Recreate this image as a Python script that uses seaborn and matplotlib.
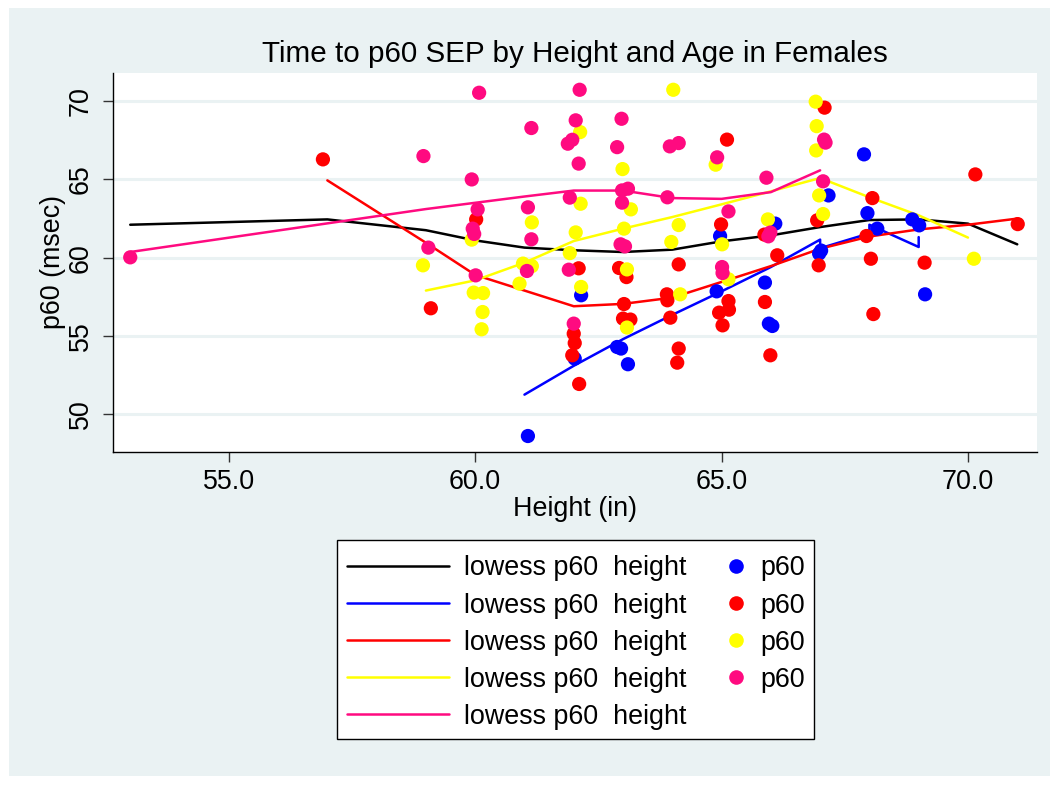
import pandas as pd
import seaborn as sns
import matplotlib.pyplot as plt
from matplotlib.lines import Line2D
from matplotlib.patches import Rectangle

# ---------------- data ----------------
# scatter points, one list pair per age group
blue_height = [61.07, 62.15, 62.02, 62.88, 62.96, 63.10, 64.97, 64.90, 65.88, 66.09,
               65.96, 66.03, 66.98, 67.02, 67.17, 67.89, 67.96, 68.16, 68.87, 69.01, 69.13]
blue_p60 = [48.62, 57.60, 53.56, 54.30, 54.20, 53.20, 61.38, 57.85, 58.41, 62.17,
            55.79, 55.64, 60.26, 60.45, 63.97, 66.59, 62.84, 61.85, 62.44, 62.06, 57.66]

red_height = [56.91, 59.10, 60.02, 62.10, 62.92, 63.07, 64.13, 63.89, 63.90, 63.02,
              63.00, 63.15, 63.96, 62.00, 62.02, 61.97, 64.13, 64.10, 62.11, 67.09,
              65.11, 66.94, 64.99, 65.87, 66.13, 66.97, 65.14, 65.15, 64.95, 65.02,
              65.88, 65.99, 70.15, 68.06, 71.01, 67.94, 68.03, 69.12, 68.08]
red_p60 = [66.27, 56.77, 62.44, 59.32, 59.34, 58.76, 59.57, 57.66, 57.28, 57.04,
           56.11, 56.05, 56.17, 55.15, 54.55, 53.77, 54.20, 53.30, 51.94, 69.57,
           67.53, 62.38, 62.12, 61.47, 60.15, 59.51, 57.23, 56.68, 56.49, 55.68,
           57.17, 53.77, 65.31, 63.80, 62.14, 61.38, 59.93, 59.68, 56.40]

yellow_height = [61.15, 59.93, 58.94, 60.97, 61.15, 60.90, 59.97, 60.16, 60.15, 60.13,
                 64.02, 62.13, 62.99, 62.14, 63.16, 64.13, 62.04, 63.02, 63.98, 61.92,
                 63.08, 62.15, 64.16, 63.08, 66.91, 66.93, 66.92, 64.88, 66.98, 67.06,
                 65.01, 65.94, 65.14, 70.12]
yellow_p60 = [62.25, 61.15, 59.51, 59.62, 59.46, 58.34, 57.77, 57.74, 56.53, 55.43,
              70.71, 68.01, 65.65, 63.44, 63.08, 62.08, 61.61, 61.85, 61.00, 60.29,
              59.25, 58.13, 57.66, 55.54, 69.95, 68.39, 66.84, 65.93, 63.97, 62.78,
              60.85, 62.44, 58.62, 59.93]

pink_height = [53.00, 58.95, 59.05, 60.08, 61.14, 59.93, 60.05, 61.07, 59.95, 59.98,
               61.14, 61.05, 60.01, 62.12, 62.04, 62.97, 61.97, 61.88, 62.88, 63.95,
               64.13, 62.10, 61.92, 62.98, 63.10, 62.98, 63.90, 62.95, 63.04, 61.90,
               62.00, 67.08, 67.11, 64.91, 65.91, 67.06, 65.14, 65.99, 65.95, 65.01, 65.02]
pink_p60 = [60.02, 66.48, 60.64, 70.52, 68.27, 64.99, 63.08, 63.21, 61.85, 61.51,
            61.17, 59.15, 58.87, 70.71, 68.76, 68.86, 67.52, 67.27, 67.05, 67.10,
            67.31, 66.00, 63.83, 64.29, 64.40, 63.51, 63.85, 60.85, 60.72, 59.23,
            55.79, 67.53, 67.34, 66.40, 65.10, 64.87, 62.95, 61.60, 61.36, 59.40, 59.02]

# lowess curves (vertices)
all_fit_h = [53, 57, 59, 60, 61, 62, 63, 64, 65, 66, 67, 68, 69, 70, 71]
all_fit_v = [62.10, 62.44, 61.75, 61.10, 60.64, 60.47, 60.36, 60.51, 61.04, 61.42,
             61.95, 62.40, 62.44, 62.17, 60.85]
blue_fit_h = [61, 62, 63, 64, 65, 66, 67, 67, 68, 68, 69, 69]
blue_fit_v = [51.26, 53.10, 54.80, 56.35, 57.85, 59.40, 61.15, 60.60, 61.55, 62.10, 60.68, 61.31]
red_fit_h = [57, 59, 60, 62, 63, 64, 65, 66, 67, 68, 69, 70, 71]
red_fit_v = [64.93, 60.95, 58.90, 56.90, 57.05, 57.45, 58.45, 59.46, 60.57, 61.35, 61.80, 62.10, 62.49]
yellow_fit_h = [59, 60, 61, 62, 63, 64, 65, 66, 67, 68, 69, 70]
yellow_fit_v = [57.90, 58.55, 59.68, 61.06, 61.85, 62.59, 63.40, 64.23, 65.08, 63.85, 62.70, 61.28]
pink_fit_h = [53, 59, 60, 61, 62, 63, 64, 65, 66, 67]
pink_fit_v = [60.36, 63.10, 63.50, 63.90, 64.28, 64.28, 63.80, 63.75, 64.18, 65.57]

colors = ['#0000FF', '#FF0000', '#FFFF00', '#FF0A80']
groups = ['g1', 'g2', 'g3', 'g4']

df = pd.concat([
    pd.DataFrame({'height': blue_height, 'p60': blue_p60, 'group': 'g1'}),
    pd.DataFrame({'height': red_height, 'p60': red_p60, 'group': 'g2'}),
    pd.DataFrame({'height': yellow_height, 'p60': yellow_p60, 'group': 'g3'}),
    pd.DataFrame({'height': pink_height, 'p60': pink_p60, 'group': 'g4'}),
], ignore_index=True)

fits = [
    (all_fit_h, all_fit_v, 'black'),
    (blue_fit_h, blue_fit_v, colors[0]),
    (red_fit_h, red_fit_v, colors[1]),
    (yellow_fit_h, yellow_fit_v, colors[2]),
    (pink_fit_h, pink_fit_v, colors[3]),
]

# ---------------- plot ----------------
sns.set_style('white')
plt.rcParams['font.family'] = ['Liberation Sans', 'DejaVu Sans']
plt.rcParams['text.color'] = 'black'
plt.rcParams['axes.labelcolor'] = 'black'
plt.rcParams['xtick.color'] = 'black'
plt.rcParams['ytick.color'] = 'black'

bg = '#EAF2F3'
fs = 19.4
fig = plt.figure(figsize=(10.58, 7.85), dpi=100)
fig.patch.set_facecolor('white')
fig.patches.append(Rectangle((0.0085, 0.0115), 0.984, 0.978, transform=fig.transFigure,
                             facecolor=bg, edgecolor='none', zorder=-10))
ax = fig.add_axes([0.1068, 0.4242, 0.8733, 0.4832])
ax.set_facecolor('white')

for h, v, c in fits:
    sns.lineplot(x=h, y=v, sort=False, estimator=None, color=c, lw=1.8, ax=ax, zorder=2)

sns.scatterplot(data=df, x='height', y='p60', hue='group', hue_order=groups,
                palette=colors, s=105, linewidth=0, legend=False, ax=ax, zorder=3)

ax.set_xlim(52.65, 71.4)
ax.set_ylim(47.6, 71.8)
ax.set_xticks([55, 60, 65, 70])
ax.set_xticklabels(['55.0', '60.0', '65.0', '70.0'])
ax.set_yticks([50, 55, 60, 65, 70])
ax.set_yticklabels(['50', '55', '60', '65', '70'], rotation=90, va='center')
ax.yaxis.grid(True, color=bg, lw=2.2)
ax.xaxis.grid(False)
ax.set_axisbelow(True)
for s in ['top', 'right']:
    ax.spines[s].set_visible(False)
for s in ['left', 'bottom']:
    ax.spines[s].set_color('black')
    ax.spines[s].set_linewidth(1.0)
ax.tick_params(axis='both', direction='out', length=7, width=1, color='#333333',
               labelsize=fs, bottom=True, left=True)
ax.tick_params(axis='x', pad=5)
ax.tick_params(axis='y', pad=7)

ax.set_xlabel('Height (in)', fontsize=fs, labelpad=1)
ax.set_ylabel('p60 (msec)', fontsize=fs, labelpad=1)
ax.set_title('Time to p60 SEP by Height and Age in Females', fontsize=21.3, pad=8)

# legend: frame + lines column + markers column
fig.patches.append(Rectangle((337 / 1058, 46 / 785), 477 / 1058, 199 / 785,
                             transform=fig.transFigure, facecolor='white',
                             edgecolor='black', lw=1.0, zorder=5))
line_handles = [Line2D([], [], color=c, lw=1.8) for _, _, c in fits]
leg1 = fig.legend(line_handles, ['lowess p60  height'] * 5, loc='upper left',
                  bbox_to_anchor=(334 / 1058, 1 - 542 / 785), frameon=False,
                  borderpad=0, fontsize=fs, handlelength=3.78, handletextpad=0.55,
                  labelspacing=0.41)
leg1.set_zorder(6)
dot_handles = [Line2D([], [], color=c, marker='o', ls='none', markersize=10.5,
                      markeredgewidth=0) for c in colors]
leg2 = fig.legend(dot_handles, ['p60'] * 4, loc='upper left',
                  bbox_to_anchor=(709 / 1058, 1 - 542 / 785), frameon=False,
                  borderpad=0, fontsize=fs, handlelength=1.0, handletextpad=0.4,
                  labelspacing=0.41)
leg2.set_zorder(6)

fig.savefig('out.png', dpi=100)
